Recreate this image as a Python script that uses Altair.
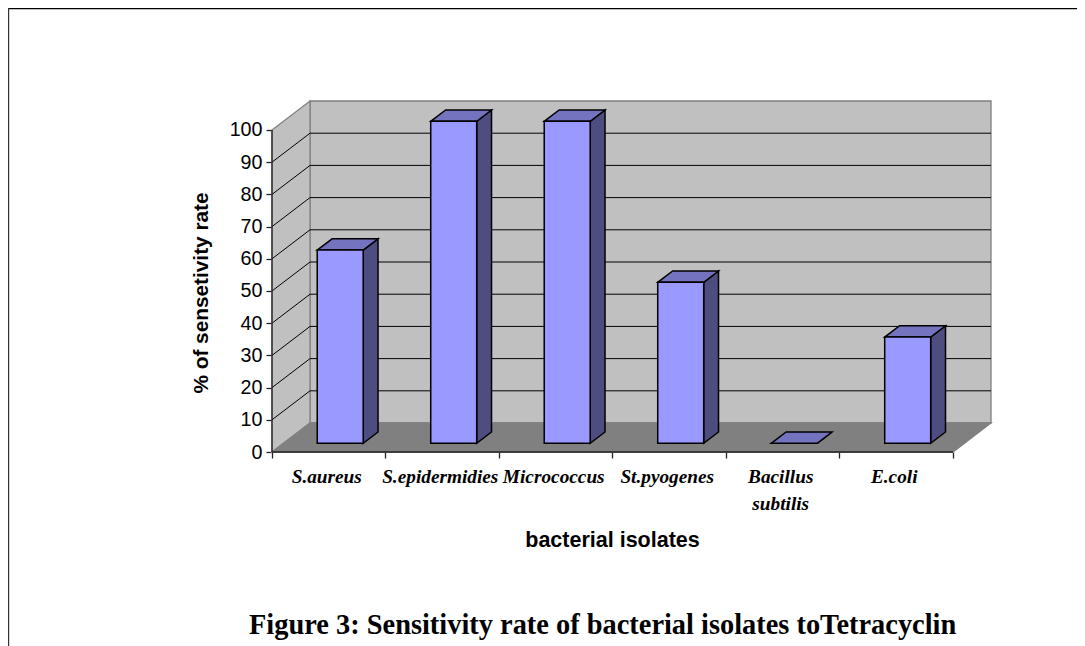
import altair as alt
import pandas as pd

categories = ["S.aureus", "S.epidermidies", "Micrococcus", "St.pyogenes", "Bacillus\nsubtilis", "E.coli"]
values = [60, 100, 100, 50, 0, 33]
y_ticks = [0, 10, 20, 30, 40, 50, 60, 70, 80, 90, 100]
x_ticks = [0, 1, 2, 3, 4, 5, 6]
grid_values = [10, 20, 30, 40, 50, 60, 70, 80, 90]

DEPTH_X, DEPTH_Y = 0.335, 9.0   # oblique projection of the chart's depth
BAR_OFF, BAR_W = 0.298, 0.405
D0, D1 = 0.30, 0.69


def px(c, d):
    return c + DEPTH_X * d


def py(v, d):
    return v + DEPTH_Y * d


fronts, sides, tops = [], [], []
for i, (name, v) in enumerate(zip(categories, values)):
    l, r = i + BAR_OFF, i + BAR_OFF + BAR_W
    fronts.append(dict(c=name, x=px(l, D0), x2=px(r, D0), y=py(0, D0), y2=py(v, D0)))
    for d in (D0, D1):
        sides.append(dict(c=name, x=px(r, d), y=py(v, d), y2=py(0, d)))
        tops.append(dict(c=name, y=py(v, d), x=px(l, d), x2=px(r, d)))
fronts = pd.DataFrame(fronts)
sides = pd.DataFrame(sides)
tops = pd.DataFrame(tops)

labels = pd.DataFrame({"x": [i + 0.5 for i in range(6)], "y": [0] * 6, "t": categories})
back = pd.DataFrame([dict(x=px(0, 1), x2=px(6, 1), y=py(0, 1), y2=py(100, 1))])
left_wall = pd.DataFrame([dict(x=px(0, d), y=py(0, d), y2=py(100, d)) for d in (0, 1)])
floor = pd.DataFrame([dict(y=py(0, d), x=px(0, d), x2=px(6, d)) for d in (0, 1)])
grid_back = pd.DataFrame([dict(x=px(0, 1), x2=px(6, 1), y=py(v, 1)) for v in grid_values])
grid_side = pd.DataFrame([dict(x=px(0, 0), x2=px(0, 1), y=py(v, 0), y2=py(v, 1)) for v in grid_values])

X = alt.Scale(domain=[0, 6 + DEPTH_X], nice=False, zero=False)
Y = alt.Scale(domain=[0, 100 + DEPTH_Y], nice=False, zero=False)
AX = alt.Axis(
    values=x_ticks, labels=False, grid=False, domain=False, tickSize=6, tickColor="#222222",
    tickWidth=1.3, title="bacterial isolates", titleFont="Liberation Sans", titleFontSize=21.5,
    titleFontWeight="bold", titleColor="#000000", titleX=340, titleY=94,
    titleAlign="center", titleBaseline="alphabetic")
AY = alt.Axis(
    values=y_ticks, grid=False, domain=False, tickSize=6, tickColor="#222222", tickWidth=1.3,
    labelFont="Liberation Sans", labelFontSize=19.7, labelColor="#000000", labelPadding=4,
    title="% of sensetivity rate", titleFont="Liberation Sans", titleFontSize=20.8,
    titleFontWeight="bold", titleColor="#000000", titleX=-70.5, titleY=191.5,
    titleAngle=270, titleAlign="center", titleBaseline="middle")
xq = alt.X("x:Q", scale=X, axis=AX)
yq = alt.Y("y:Q", scale=Y, axis=AY)
x2 = alt.X2("x2:Q")
y2 = alt.Y2("y2:Q")

GREY = "#808080"
WALL = "#C0C0C0"
FRONT, TOP, SIDE = "#9999FF", "#7373BF", "#4D4D80"

wall_style = dict(stroke=GREY, strokeWidth=1.3)
back_l = alt.Chart(back).mark_rect(color=WALL, **wall_style).encode(x=xq, x2=x2, y=yq, y2=y2)
left_l = alt.Chart(left_wall).mark_area(color=WALL, **wall_style).encode(x=xq, y=yq, y2=y2)
floor_l = alt.Chart(floor).mark_area(orient="horizontal", color=GREY, **wall_style).encode(y=yq, x=xq, x2=x2)
grid_b = alt.Chart(grid_back).mark_rule(color="#000000", strokeWidth=1).encode(x=xq, x2=x2, y=yq)
grid_s = alt.Chart(grid_side).mark_rule(color="#000000", strokeWidth=1).encode(x=xq, x2=x2, y=yq, y2=y2)

bar_style = dict(stroke="#000000", strokeWidth=1.5)
side_l = alt.Chart(sides).mark_area(color=SIDE, **bar_style).encode(x=xq, y=yq, y2=y2, detail="c:N")
top_l = alt.Chart(tops).mark_area(orient="horizontal", color=TOP, **bar_style).encode(y=yq, x=xq, x2=x2, detail="c:N")
front_l = alt.Chart(fronts[fronts.y2 > fronts.y]).mark_rect(color=FRONT, **bar_style).encode(x=xq, x2=x2, y=yq, y2=y2)

axis_x = alt.Chart(pd.DataFrame([dict(x=0, x2=6, y=0)])).mark_rule(color="#222222", strokeWidth=1.6).encode(x=xq, x2=x2, y=yq)
axis_y = alt.Chart(pd.DataFrame([dict(x=0, y=0, y2=100)])).mark_rule(color="#222222", strokeWidth=1.3).encode(x=xq, y=yq, y2=y2)

cat_text = alt.Chart(labels).mark_text(
    font="Liberation Serif", fontStyle="italic", fontWeight="bold", fontSize=19.3, color="#000000",
    align="center", baseline="alphabetic", dy=31, dx=-2, lineBreak="\n", lineHeight=27,
).encode(x=xq, y=yq, text="t:N")

fig_title = alt.Chart(pd.DataFrame({"t": ["Figure 3: Sensitivity rate of bacterial isolates toTetracyclin"]})).mark_text(
    font="Liberation Serif", fontWeight="bold", fontSize=28.4, color="#000000", align="left", baseline="alphabetic",
).encode(x=alt.value(-23), y=alt.value(533), text="t:N")

frame_top = alt.Chart(pd.DataFrame({"a": [0]})).mark_rule(color="#000000", strokeWidth=1.6).encode(
    x=alt.value(-264), x2=alt.value(805), y=alt.value(-92.5))
frame_left = alt.Chart(pd.DataFrame({"a": [0]})).mark_rule(color="#333333", strokeWidth=1.4).encode(
    x=alt.value(-263.5), y=alt.value(-93), y2=alt.value(545))

chart = alt.layer(
    back_l, left_l, floor_l, grid_b, grid_s, side_l, top_l, front_l, axis_x, axis_y,
    cat_text, fig_title, frame_top, frame_left,
).properties(
    width=719, height=351,
    padding={"left": 264, "top": 93, "right": 86, "bottom": 194},
    autosize=alt.AutoSizeParams(type="none"),
    background="#FFFFFF",
).configure_view(stroke=None)

chart.save("out.html", embed_options={"renderer": "svg", "actions": False})
